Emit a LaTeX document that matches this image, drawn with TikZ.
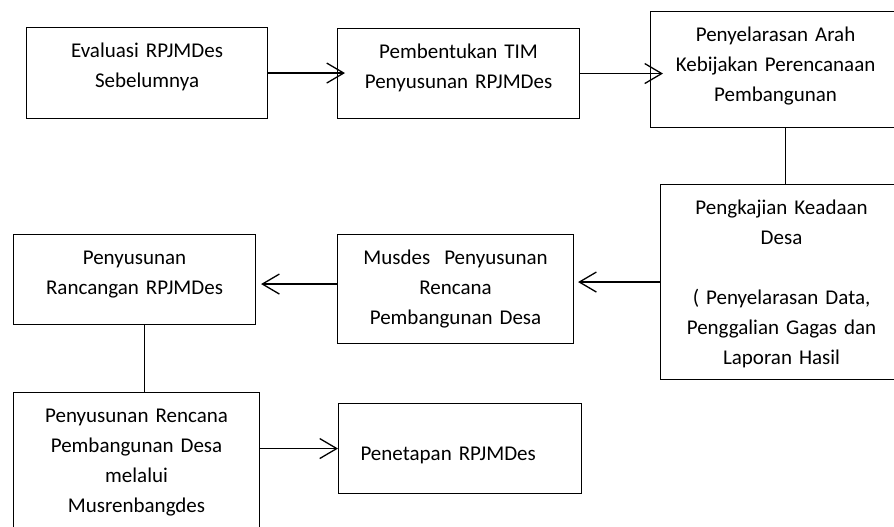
\documentclass[tikz,border=0pt]{standalone}
\usepackage{fontspec}
\setmainfont{Carlito}
\usetikzlibrary{arrows.meta}

\begin{document}
\begin{tikzpicture}[x=1pt,y=-1pt,>={Straight Barb[length=17pt,width=20pt]},
  every node/.style={font=\fontsize{21}{30}\selectfont},
  box/.style={draw,line width=1.1pt,anchor=north west,inner sep=0pt,align=center,text height=30pt},
  arr/.style={->,line width=1.3pt},
  link/.style={line width=1.6pt}]
  \useasboundingbox (0,0) rectangle (894,527);
  \clip (0,0) rectangle (894,527);
  \node[box,text width=241pt,text depth=61pt] (evaluasi) at (26,27) {Evaluasi RPJMDes\\Sebelumnya};
  \node[box,text width=242pt,text depth=60pt] (pembentukan) at (337,28) {Pembentukan TIM\\Penyusunan RPJMDes};
  \node[box,text width=250pt,text depth=86pt] (arah) at (650,11) {Penyelarasan Arah\\Kebijakan Perencanaan\\Pembangunan};
  \node[box,text width=242pt,text depth=165pt] (pengkajian) at (660,184) {Pengkajian Keadaan\\Desa\\[30pt]( Penyelarasan Data,\\Penggalian Gagas dan\\Laporan Hasil};
  \node[box,text width=236pt,text depth=79pt] (musdes) at (337,234) {Musdes~ Penyusunan\\Rencana\\Pembangunan Desa};
  \node[box,text width=242pt,text depth=60pt] (rancangan) at (13,234) {Penyusunan\\Rancangan RPJMDes};
  \node[box,text width=246pt,text depth=120pt] (musrenbang) at (13,392) {Penyusunan Rencana\\Pembangunan Desa\\melalui\\Musrenbangdes};
  \node[box,align=left,inner xsep=22pt,text width=199pt,text height=57pt,text depth=33pt] (penetapan) at (338,403) {Penetapan RPJMDes};
  \draw[arr] (evaluasi.east) -- ([xshift=8pt]evaluasi.east -| pembentukan.west);
  \draw[arr] (pembentukan.east) -- ([xshift=13pt]pembentukan.east -| arah.west);
  \draw[link] ([xshift=10pt]arah.south) -- ([xshift=10pt]arah.south |- pengkajian.north);
  \draw[arr] (pengkajian.west) -- ([xshift=4pt]pengkajian.west -| musdes.east);
  \draw[arr] ([yshift=5pt]musdes.west) -- ([yshift=5pt,xshift=5pt]musdes.west -| rancangan.east);
  \draw[link] ([xshift=10pt]rancangan.south) -- ([xshift=10pt]rancangan.south |- musrenbang.north);
  \draw[arr] (penetapan.west -| musrenbang.east) -- (penetapan.west);
\end{tikzpicture}
\end{document}
